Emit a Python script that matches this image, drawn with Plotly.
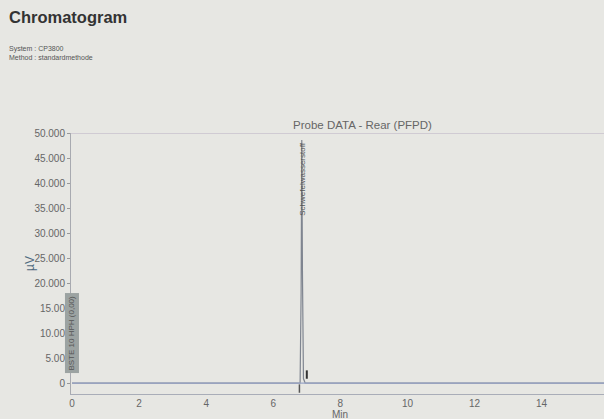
import plotly.graph_objects as go

# ---- data ----
time_min = [0.0, 6.80, 6.83, 6.85, 6.87, 6.90, 6.95, 15.86]
signal_uv = [0, 0, 18000, 48600, 22000, 900, 0, 0]
peak_name = "Schwefelwasserstoff"
peak_time = 6.85
peak_top = 48600
peak_end_time = [7.0]
peak_end_val = [1700]
peak_start_time = [6.78]
peak_start_val = [-1100]

x_ticks = [0, 2, 4, 6, 8, 10, 12, 14]
y_ticks = [0, 5000, 10000, 15000, 20000, 25000, 30000, 35000, 40000, 45000, 50000]
y_ticklabels = ["0", "5.00", "10.00", "15.00", "20.000", "25.000", "30.000",
                "35.000", "40.000", "45.000", "50.000"]

bg = "#e7e7e3"
fig = go.Figure()

fig.add_trace(go.Scatter(x=time_min, y=signal_uv, mode="lines",
                         line=dict(color="#7f8590", width=1.2), showlegend=False,
                         hoverinfo="skip"))
fig.add_trace(go.Scatter(x=[time_min[0], time_min[-1]], y=[0, 0], mode="lines",
                         line=dict(color="#9aa6c8", width=1.2), showlegend=False,
                         hoverinfo="skip"))
fig.add_trace(go.Scatter(x=peak_end_time, y=peak_end_val, mode="markers",
                         marker=dict(symbol="line-ns", size=6,
                                     line=dict(color="#333", width=2)),
                         showlegend=False))
fig.add_trace(go.Scatter(x=peak_start_time, y=peak_start_val, mode="markers",
                         marker=dict(symbol="line-ns", size=6,
                                     line=dict(color="#555", width=1.5)),
                         showlegend=False))

fig.update_layout(
    width=604, height=419,
    paper_bgcolor=bg, plot_bgcolor=bg,
    margin=dict(l=71, r=0, t=133, b=25, autoexpand=False),
    font=dict(family="Liberation Sans, Arial", color="#555"),
    xaxis=dict(range=[-0.03, 15.86], tickvals=x_ticks,
               ticktext=[str(v) for v in x_ticks], automargin=False,
               showgrid=False, zeroline=False, showline=True,
               linecolor="#a9adb8", linewidth=1, ticks="",
               tickfont=dict(size=10, color="#666")),
    yaxis=dict(range=[-2190, 50000], tickvals=y_ticks, ticktext=y_ticklabels,
               automargin=False,
               showgrid=False, zeroline=False, showline=True,
               linecolor="#a8aab0", linewidth=1, ticks="outside", ticklen=3,
               tickcolor="#999", tickfont=dict(size=10, color="#666")),
)

# top reference line
fig.add_hline(y=50000, line=dict(color="#b9b0c4", width=1.2))

# texts
fig.add_annotation(text="<b>Chromatogram</b>", xref="paper", yref="paper",
                   x=-0.12, y=1.0, xanchor="left", yanchor="bottom",
                   yshift=105, showarrow=False,
                   font=dict(size=16.5, color="#333"))
fig.add_annotation(text="System : CP3800<br>Method : standardmethode",
                   xref="paper", yref="paper", x=-0.12, y=1.0,
                   xanchor="left", yanchor="bottom", yshift=70, showarrow=False,
                   align="left", font=dict(size=7, color="#555"))
fig.add_annotation(text="Probe DATA - Rear (PFPD)", xref="paper", yref="paper",
                   x=0.412, y=1.0, xanchor="left", yanchor="bottom", yshift=0,
                   showarrow=False, font=dict(size=11.5, color="#666"))
fig.add_annotation(text="Min", xref="x", yref="paper", x=8, y=0,
                   yanchor="top", yshift=-13, showarrow=False,
                   font=dict(size=10, color="#666"))
fig.add_annotation(text="µV", xref="paper", yref="y", x=-0.077, y=24000,
                   xanchor="center", yanchor="middle",
                   textangle=-90, showarrow=False,
                   font=dict(size=12, color="#4f6a80"))
fig.add_annotation(text=peak_name, x=peak_time, y=peak_top, xanchor="center",
                   yanchor="top", textangle=-90, showarrow=False,
                   font=dict(size=8, color="#555"))
fig.add_annotation(text="BSTE 10 HPH (0,00)", x=0, y=9900, xanchor="center",
                   yanchor="middle", textangle=-90, showarrow=False,
                   bgcolor="#9ca3a2", borderpad=2,
                   font=dict(size=8, color="#555"))

fig.write_html("out.html", config={"displayModeBar": False},
               post_script="document.body.style.margin='0';"
                           "document.body.style.background='#e7e7e3';")
